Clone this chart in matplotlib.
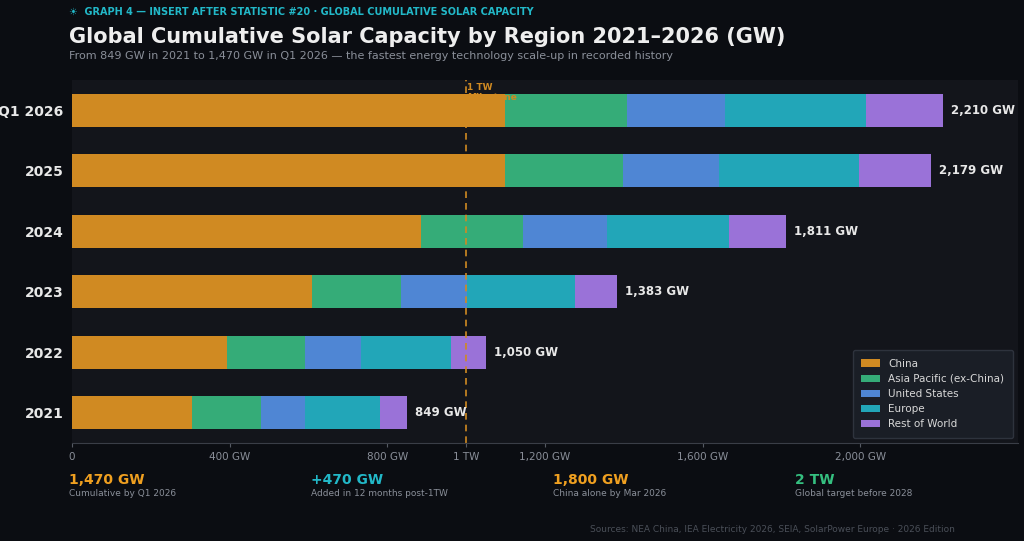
import matplotlib
matplotlib.use("Agg")
import matplotlib.pyplot as plt
import numpy as np

years = ["2021", "2022", "2023", "2024", "2025", "Q1 2026"]
china = [305, 393, 609, 886, 1099, 1099]
apac = [175, 198, 226, 259, 299, 310]
us = [111, 143, 168, 213, 244, 248]
europe = [191, 228, 274, 310, 355, 358]
row = [67, 88, 106, 143, 182, 195]
totals = [849, 1050, 1383, 1811, 2179, 2210]
series_names = ["China", "Asia Pacific (ex-China)", "United States", "Europe", "Rest of World"]
colors = ["#d08a22", "#35ac78", "#4f86d4", "#22a6b8", "#9a72d8"]
xticks = [0, 400, 800, 1000, 1200, 1600, 2000]
xticklabels = ["0", "400 GW", "800 GW", "1 TW", "1,200 GW", "1,600 GW", "2,000 GW"]

bg = "#0b0d12"
fig = plt.figure(figsize=(10.24, 5.41), dpi=100, facecolor=bg)
ax = fig.add_axes([72/1024, 1-443/541, (1018-72)/1024, (443-80)/541])
ax.set_facecolor("#13151b")
y = np.arange(len(years))
left = np.zeros(len(years))
for vals, name, c in zip([china, apac, us, europe, row], series_names, colors):
    ax.barh(y, vals, left=left, height=0.55, color=c, label=name)
    left += np.array(vals)
for yi, t in zip(y, totals):
    ax.text(t + 20, yi, f"{t:,} GW", va="center", ha="left", color="#e8e8e8", fontsize=8.5, fontweight="bold")
ax.axvline(1000, color="#d08a22", ls=(0, (4, 3)), lw=1.2)
ax.text(1003, 5.45, "1 TW\nMilestone", color="#d08a22", fontsize=6.5, fontweight="bold", va="top", ha="left")
ax.set_xlim(0, 2400)
ax.set_ylim(-0.5, 5.5)
ax.set_yticks(y)
ax.set_yticklabels(years, color="#e8e8e8", fontsize=10, fontweight="bold")
ax.set_xticks(xticks)
ax.set_xticklabels(xticklabels, color="#8a8f99", fontsize=7.5)
ax.tick_params(axis="y", length=0, pad=6)
ax.tick_params(axis="x", length=3, color="#555a63")
for s in ax.spines.values():
    s.set_visible(False)
ax.spines["bottom"].set_visible(True)
ax.spines["bottom"].set_color("#3a3e47")
leg = ax.legend(loc="lower right", fontsize=7.5, facecolor="#1a1e26", edgecolor="#2e333d",
                labelcolor="#d8d8d8", framealpha=1, handlelength=1.8, borderpad=0.8)

fig.text(69/1024, 1-12/541, "☀  GRAPH 4 — INSERT AFTER STATISTIC #20 · GLOBAL CUMULATIVE SOLAR CAPACITY",
         color="#22b8c8", fontsize=7, fontweight="bold", va="center")
fig.text(69/1024, 1-37/541, "Global Cumulative Solar Capacity by Region 2021–2026 (GW)",
         color="#eeeeee", fontsize=15, fontweight="bold", va="center")
fig.text(69/1024, 1-56/541, "From 849 GW in 2021 to 1,470 GW in Q1 2026 — the fastest energy technology scale-up in recorded history",
         color="#8a8f99", fontsize=8, va="center")
stats = [("1,470 GW", "Cumulative by Q1 2026", "#f0a020", 69),
         ("+470 GW", "Added in 12 months post-1TW", "#22b8c8", 311),
         ("1,800 GW", "China alone by Mar 2026", "#f0a020", 553),
         ("2 TW", "Global target before 2028", "#35c080", 795)]
for big, small, c, x in stats:
    fig.text(x/1024, 1-480/541, big, color=c, fontsize=10, fontweight="bold", va="center")
    fig.text(x/1024, 1-494/541, small, color="#8a8f99", fontsize=6.5, va="center")
fig.text(955/1024, 1-529/541, "Sources: NEA China, IEA Electricity 2026, SEIA, SolarPower Europe · 2026 Edition",
         color="#4a4f58", fontsize=6.5, ha="right", va="center")
fig.savefig("out.png", dpi=100, facecolor=bg)
